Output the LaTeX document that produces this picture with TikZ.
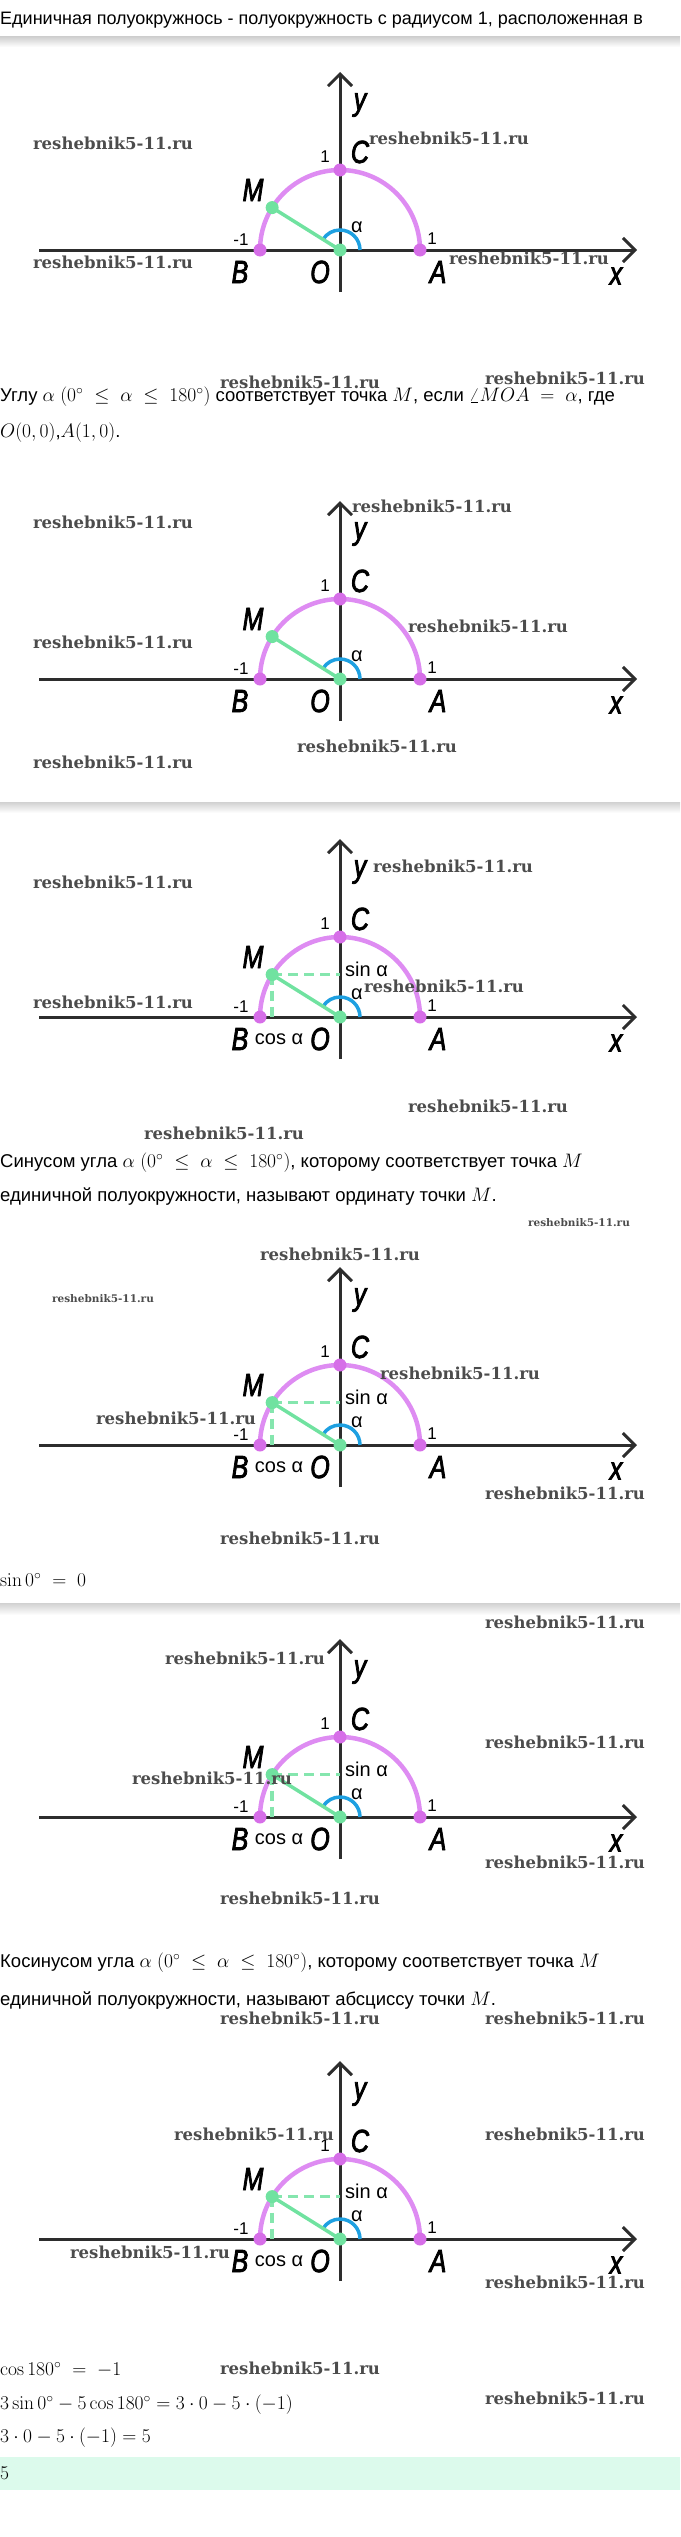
\RequirePackage{fix-cm}
\documentclass[tikz,border=0pt]{standalone}
\usepackage[no-math]{fontspec}
\setmainfont{Liberation Sans}
\newfontfamily\lblfont[FakeStretch=0.78, FakeBold=2.5]{Liberation Sans}
\newfontfamily\wmfont{DejaVu Serif}
\usetikzlibrary{arrows.meta}

\definecolor{axiscol}{RGB}{45,45,45}
\definecolor{semicol}{RGB}{222,140,242}
\definecolor{dotcol}{RGB}{214,110,232}
\definecolor{greencol}{RGB}{112,226,160}
\definecolor{bluecol}{RGB}{30,160,225}
\definecolor{mintcol}{RGB}{220,250,236}

\newcommand\mth[1]{{\fontsize{19.5}{22}\selectfont$#1$}}

\begin{document}
\begin{tikzpicture}[x=1pt, y=-1pt,
		axis/.style = {draw=axiscol, line width=3pt, -{Straight Barb[length=12pt, width=24pt]}},
		semi/.style = {draw=semicol, line width=4.5pt},
		ang/.style = {draw=bluecol, line width=3.5pt},
		rad/.style = {draw=greencol, line width=3.5pt},
		proj/.style = {draw=greencol!85, line width=3.5pt, dash pattern=on 10pt off 6pt},
		vdot/.style = {fill=dotcol},
		gdot/.style = {fill=greencol},
		pname/.style = {font=\lblfont\itshape\fontsize{32}{32}\selectfont},
		num/.style = {font=\fontsize{17}{17}\selectfont},
		trig/.style = {font=\fontsize{20}{20}\selectfont},
		txt/.style = {anchor=west, inner sep=0pt, font=\fontsize{18.5}{20}\selectfont},
		wmark/.style = {text=black!70, font=\wmfont\bfseries\fontsize{16.5}{16}\selectfont},
		wsmall/.style = {text=black!70, font=\wmfont\bfseries\fontsize{10.5}{10}\selectfont}
	]
	\useasboundingbox (0,0) rectangle (680,2537);

	% Полосы
	\shade[top color=black!18, bottom color=white] (0,37) rectangle (680,47);
	\shade[top color=black!18, bottom color=white] (0,802) rectangle (680,813);
	\shade[top color=black!18, bottom color=white] (0,1603) rectangle (680,1615);
	\fill[mintcol] (0,2457) rectangle (680,2490);

	% Тексты
	\node [txt, font=\fontsize{18}{20}\selectfont] (t1) at (0,20) {Единичная полуокружнось - полуокружность с радиусом 1, расположенная в};
	\node [txt] (t2) at (0,397) {Углу \mth{\alpha\ (0^\circ\ \le\ \alpha\ \le\ 180^\circ)} соответствует точка \mth{M}, если \mth{\angle MOA\ =\ \alpha}, где};
	\node [txt] (t3) at (0,433) {\mth{O(0,0)},\mth{A(1,0)}.};
	\node [txt] (t4) at (0,1163) {Синусом угла \mth{\alpha\ (0^\circ\ \le\ \alpha\ \le\ 180^\circ)}, которому соответствует точка \mth{M}};
	\node [txt] (t5) at (0,1197) {единичной полуокружности, называют ординату точки \mth{M}.};
	\node [txt] (t6) at (0,1580) {\mth{\sin 0^\circ\ =\ 0}};
	\node [txt] (t7) at (0,1963) {Косинусом угла \mth{\alpha\ (0^\circ\ \le\ \alpha\ \le\ 180^\circ)}, которому соответствует точка \mth{M}};
	\node [txt] (t8) at (0,2001) {единичной полуокружности, называют абсциссу точки \mth{M}.};
	\node [txt] (t9) at (0,2370) {\mth{\cos 180^\circ\ =\ -1}};
	\node [txt] (t10) at (0,2405) {\mth{3\sin 0^\circ - 5\cos 180^\circ = 3\cdot 0 - 5\cdot(-1)}};
	\node [txt] (t11) at (0,2438) {\mth{3\cdot 0 - 5\cdot(-1) = 5}};
	\node [txt] (t12) at (0,2473) {\mth{5}};

	% Полуокружности
	\foreach \d/\yy/\sc in {1/250/0, 2/679/0, 3/1017/1, 4/1445/1, 5/1817/1, 6/2239/1} {
		\begin{scope}[shift={(340,\yy)}, y=1pt]
			\coordinate (O\d) at (0,0);
			\coordinate (A\d) at (80,0);
			\coordinate (B\d) at (-80,0);
			\coordinate (C\d) at (0,80);
			\coordinate (M\d) at (148:80);
			\coordinate (R\d) at (20,0);
			\coordinate (xl\d) at (-301,0);
			\coordinate (xr\d) at (297,0);
			\coordinate (yb\d) at (0,-42);
			\coordinate (yt\d) at (0,178);
			\draw [axis] (xl\d) -- (xr\d);
			\draw [axis] (yb\d) -- (yt\d);
			\draw [semi] (A\d) arc[start angle=0, end angle=180, radius=80];
			\draw [ang] (R\d) arc[start angle=0, end angle=148, radius=20];
			\ifnum\sc=1
				\coordinate (S\d) at (M\d -| O\d);
				\coordinate (K\d) at (M\d |- O\d);
				\draw [proj] (M\d) -- (S\d);
				\draw [proj] (M\d) -- (K\d);
				\node [trig, anchor=west, inner sep=0pt] (sin\d) at (5,48) {sin α};
				\node [trig] (cos\d) at (-61,-22) {cos α};
			\fi
			\draw [rad] (O\d) -- (M\d);
			\fill [vdot] (A\d) circle[radius=6.5];
			\fill [vdot] (B\d) circle[radius=6.5];
			\fill [vdot] (C\d) circle[radius=6.5];
			\fill [gdot] (M\d) circle[radius=6.5];
			\fill [gdot] (O\d) circle[radius=6.5];
			% Подписи
			\node [pname] (ly\d) at (20,145) {y};
			\node [pname] (lC\d) at (20,98) {C};
			\node [num] (lc\d) at (-15,93) {1};
			\node [pname] (lM\d) at (-87,60) {M};
			\node [trig] (la\d) at (17,23) {α};
			\node [num] (lb\d) at (-99,10) {-1};
			\node [num] (lr\d) at (92,11) {1};
			\node [pname] (lB\d) at (-100,-22) {B};
			\node [pname] (lO\d) at (-20,-22) {O};
			\node [pname] (lA\d) at (98,-22) {A};
			\node [pname] (lx\d) at (276,-26) {x};
		\end{scope}
	}

	% Водяные знаки
	\foreach \wx/\wy [count=\i] in {113/143, 449/138, 113/262, 529/258, 300/382, 565/378,
			113/522, 432/506, 488/626, 113/642, 377/746, 113/762,
			113/882, 453/866, 113/1002, 444/986, 488/1106, 224/1133,
			340/1254, 460/1373, 176/1418, 565/1493, 300/1538,
			565/1622, 245/1658, 565/1742, 212/1778, 565/1862, 300/1898, 300/2018, 565/2018,
			254/2134, 565/2134, 150/2252, 565/2282, 300/2368, 565/2398}
		\node [wmark] (wm\i) at (\wx,\wy) {reshebnik5-11.ru};
	\node [wsmall] (ws1) at (579,1223) {reshebnik5-11.ru};
	\node [wsmall] (ws2) at (103,1299) {reshebnik5-11.ru};
\end{tikzpicture}
\end{document}
